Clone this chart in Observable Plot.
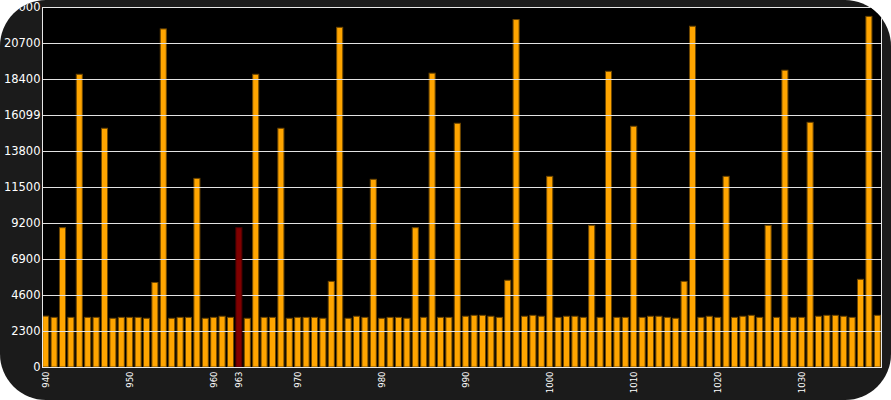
<!DOCTYPE html>
<html>
<head>
<meta charset="utf-8">
<script src="https://cdn.jsdelivr.net/npm/d3@7"></script>
<script src="https://cdn.jsdelivr.net/npm/@observablehq/plot@0.6"></script>
<style>
  html, body { margin: 0; padding: 0; background: #ffffff; }
  #panel { width: 891px; height: 400px; border-radius: 46px; overflow: hidden; background: #1b1b1b; }
  #panel svg { display: block; }
</style>
</head>
<body>
<div id="panel"></div>
<script>
const categories = d3.range(940, 1040);
const values = [
  3250, 3170, 8900, 3170, 18700, 3170, 3170, 15250, 3110, 3170,
  3170, 3170, 3110, 5400, 21600, 3110, 3170, 3170, 12050, 3110,
  3170, 3240, 3170, 8900, 3110, 18700, 3170, 3170, 15250, 3110,
  3170, 3170, 3170, 3110, 5470, 21700, 3110, 3240, 3170, 11990,
  3110, 3170, 3170, 3110, 8900, 3170, 18770, 3170, 3170, 15570,
  3240, 3300, 3300, 3240, 3170, 5540, 22200, 3240, 3300, 3240,
  12180, 3170, 3240, 3240, 3170, 9050, 3170, 18890, 3170, 3170,
  15380, 3170, 3240, 3240, 3170, 3110, 5470, 21770, 3170, 3240,
  3170, 12180, 3170, 3240, 3300, 3170, 9050, 3170, 18960, 3170,
  3170, 15630, 3240, 3300, 3300, 3240, 3170, 5600, 22400, 3300
];
const highlighted = 963;
const xTicks = [940, 950, 960, 963, 970, 980, 990, 1000, 1010, 1020, 1030];
const yTicks = [0, 2300, 4600, 6900, 9200, 11500, 13800, 16100, 18400, 20700, 23000];
const yTickLabels = ["0", "2300", "4600", "6900", "9200", "11500", "13800", "16099", "18400", "20700", "23000"];

const data = categories.map((c, i) => ({cat: c, value: values[i]}));
const normal = data.filter(d => d.cat !== highlighted);
const special = data.filter(d => d.cat === highlighted);

const chart = Plot.plot({
  width: 891,
  height: 400,
  marginTop: 7,
  marginBottom: 33,
  marginLeft: 42,
  marginRight: 10,
  style: {background: "transparent", color: "white", fontFamily: "DejaVu Sans, Verdana, sans-serif"},
  x: {type: "band", domain: categories, paddingInner: 0.28, paddingOuter: 0.08, label: null},
  y: {domain: [0, 23000], label: null},
  marks: [
    Plot.frame({fill: "black", stroke: null}),
    Plot.barY(normal, {x: "cat", y: "value", fill: "#ffa500", stroke: "#6e4700", strokeWidth: 1}),
    Plot.gridY(yTicks, {stroke: "#e2e2e2", strokeOpacity: 1, strokeWidth: 1}),
    Plot.barY(special, {x: "cat", y: "value", fill: "#800000", stroke: "#4a0000", strokeWidth: 1}),
    Plot.frame({stroke: "#e8e8e8", strokeWidth: 1}),
    Plot.axisY(yTicks, {tickSize: 0, tickPadding: 2, fontSize: 11.5, fill: "white", tickFormat: (d, i) => yTickLabels[yTicks.indexOf(d)]}),
    Plot.axisX(xTicks, {tickSize: 0, tickPadding: 4, fontSize: 8.5, fill: "white", tickRotate: -90, tickFormat: d => String(d)})
  ]
});
document.getElementById("panel").appendChild(chart);
</script>
</body>
</html>
